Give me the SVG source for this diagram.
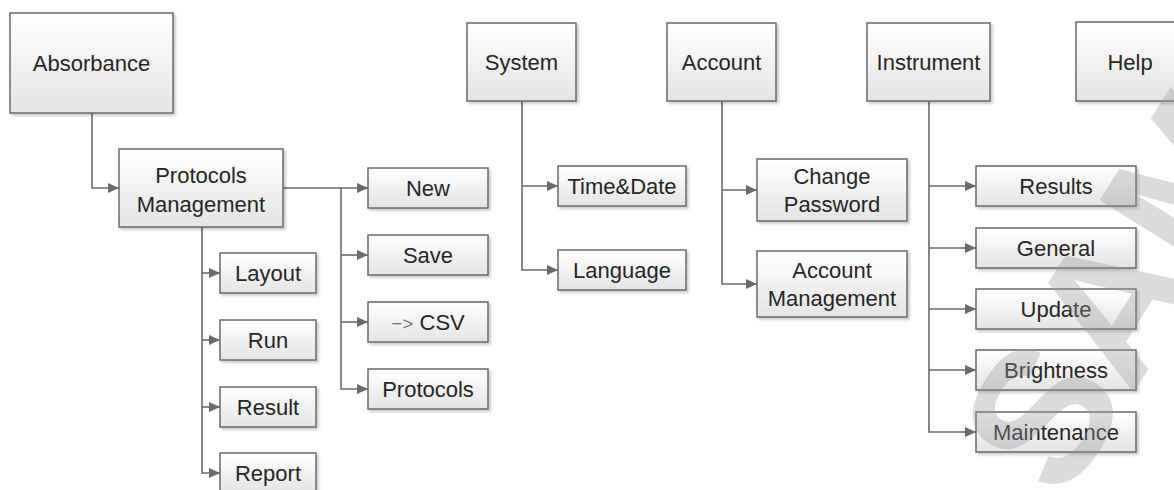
<svg xmlns="http://www.w3.org/2000/svg" width="1174" height="490" viewBox="0 0 1174 490">
<defs>
<linearGradient id="g" x1="0" y1="0" x2="0" y2="1">
<stop offset="0" stop-color="#ffffff"/>
<stop offset="1" stop-color="#e4e4e4"/>
</linearGradient>
<filter id="sh" x="-10%" y="-10%" width="130%" height="130%">
<feDropShadow dx="2" dy="2" stdDeviation="1.5" flood-color="#000" flood-opacity="0.22"/>
</filter>
<marker id="ah" markerUnits="userSpaceOnUse" markerWidth="12" markerHeight="10" refX="11" refY="5" orient="auto">
<path d="M0,0 L11,5 L0,10 Z" fill="#6a6a6a"/>
</marker>
<style>
.box{fill:url(#g);stroke:#6a6a6a;stroke-width:1.5;filter:url(#sh)}
.t{font-family:"Liberation Sans",Arial,sans-serif;font-size:22px;fill:#262626;text-anchor:middle}
.c{fill:none;stroke:#6a6a6a;stroke-width:1.6}
.wm{font-family:"Liberation Sans",Arial,sans-serif;font-weight:bold;font-size:190px;fill:#9a9a9a;opacity:0.35}
</style>
</defs>
<rect width="1174" height="490" fill="#ffffff"/>

<g id="connectors">
<path class="c" d="M92 113 V188 H119" marker-end="url(#ah)"/>
<path class="c" d="M283 188 H368" marker-end="url(#ah)"/>
<path class="c" d="M341 188 V389 H368" marker-end="url(#ah)"/>
<path class="c" d="M341 255 H368" marker-end="url(#ah)"/>
<path class="c" d="M341 322 H368" marker-end="url(#ah)"/>
<path class="c" d="M202 227 V473 H220" marker-end="url(#ah)"/>
<path class="c" d="M202 273 H220" marker-end="url(#ah)"/>
<path class="c" d="M202 340 H220" marker-end="url(#ah)"/>
<path class="c" d="M202 407 H220" marker-end="url(#ah)"/>
<path class="c" d="M522 101 V270 H558" marker-end="url(#ah)"/>
<path class="c" d="M522 186 H558" marker-end="url(#ah)"/>
<path class="c" d="M722 101 V284 H757" marker-end="url(#ah)"/>
<path class="c" d="M722 190 H757" marker-end="url(#ah)"/>
<path class="c" d="M929 101 V432 H976" marker-end="url(#ah)"/>
<path class="c" d="M929 186 H976" marker-end="url(#ah)"/>
<path class="c" d="M929 248 H976" marker-end="url(#ah)"/>
<path class="c" d="M929 309 H976" marker-end="url(#ah)"/>
<path class="c" d="M929 370 H976" marker-end="url(#ah)"/>
</g>

<g id="absorbance"><rect class="box" x="10" y="13" width="163" height="100"/><text class="t" x="91.5" y="71">Absorbance</text></g>
<g id="protocols-management"><rect class="box" x="119" y="149" width="164" height="78"/><text class="t" x="201" y="183">Protocols</text><text class="t" x="201" y="212">Management</text></g>
<g id="new"><rect class="box" x="368" y="168" width="120" height="40"/><text class="t" x="428" y="196">New</text></g>
<g id="save"><rect class="box" x="368" y="235" width="120" height="40"/><text class="t" x="428" y="263">Save</text></g>
<g id="csv"><rect class="box" x="368" y="302" width="120" height="40"/><text class="t" x="428" y="330"><tspan fill="#777" font-size="19">−&gt;</tspan> CSV</text></g>
<g id="protocols"><rect class="box" x="368" y="369" width="120" height="40"/><text class="t" x="428" y="397">Protocols</text></g>
<g id="layout"><rect class="box" x="220" y="253" width="96" height="40"/><text class="t" x="268" y="281">Layout</text></g>
<g id="run"><rect class="box" x="220" y="320" width="96" height="40"/><text class="t" x="268" y="348">Run</text></g>
<g id="result"><rect class="box" x="220" y="387" width="96" height="40"/><text class="t" x="268" y="415">Result</text></g>
<g id="report"><rect class="box" x="220" y="453" width="96" height="40"/><text class="t" x="268" y="481">Report</text></g>
<g id="system"><rect class="box" x="467" y="23" width="109" height="78"/><text class="t" x="521.5" y="70">System</text></g>
<g id="time-date"><rect class="box" x="558" y="166" width="128" height="40"/><text class="t" x="622" y="194">Time&amp;Date</text></g>
<g id="language"><rect class="box" x="558" y="250" width="128" height="40"/><text class="t" x="622" y="278">Language</text></g>
<g id="account"><rect class="box" x="667" y="23" width="109" height="78"/><text class="t" x="721.5" y="70">Account</text></g>
<g id="change-password"><rect class="box" x="757" y="159" width="150" height="62"/><text class="t" x="832" y="184">Change</text><text class="t" x="832" y="212">Password</text></g>
<g id="account-management"><rect class="box" x="757" y="251" width="150" height="66"/><text class="t" x="832" y="278">Account</text><text class="t" x="832" y="306">Management</text></g>
<g id="instrument"><rect class="box" x="867" y="23" width="123" height="78"/><text class="t" x="928.5" y="70">Instrument</text></g>
<g id="help"><rect class="box" x="1076" y="22" width="109" height="79"/><text class="t" x="1130" y="70">Help</text></g>
<g id="results"><rect class="box" x="976" y="166" width="160" height="40"/><text class="t" x="1056" y="194">Results</text></g>
<g id="general"><rect class="box" x="976" y="228" width="160" height="40"/><text class="t" x="1056" y="256">General</text></g>
<g id="update"><rect class="box" x="976" y="289" width="160" height="40"/><text class="t" x="1056" y="317">Update</text></g>
<g id="brightness"><rect class="box" x="976" y="350" width="160" height="40"/><text class="t" x="1056" y="378">Brightness</text></g>
<g id="maintenance"><rect class="box" x="976" y="412" width="160" height="40"/><text class="t" x="1056" y="440">Maintenance</text></g>

<g id="watermark" transform="translate(1064 504) rotate(-58)"><text class="wm" x="0" y="0">SAMPLE</text></g>
</svg>
